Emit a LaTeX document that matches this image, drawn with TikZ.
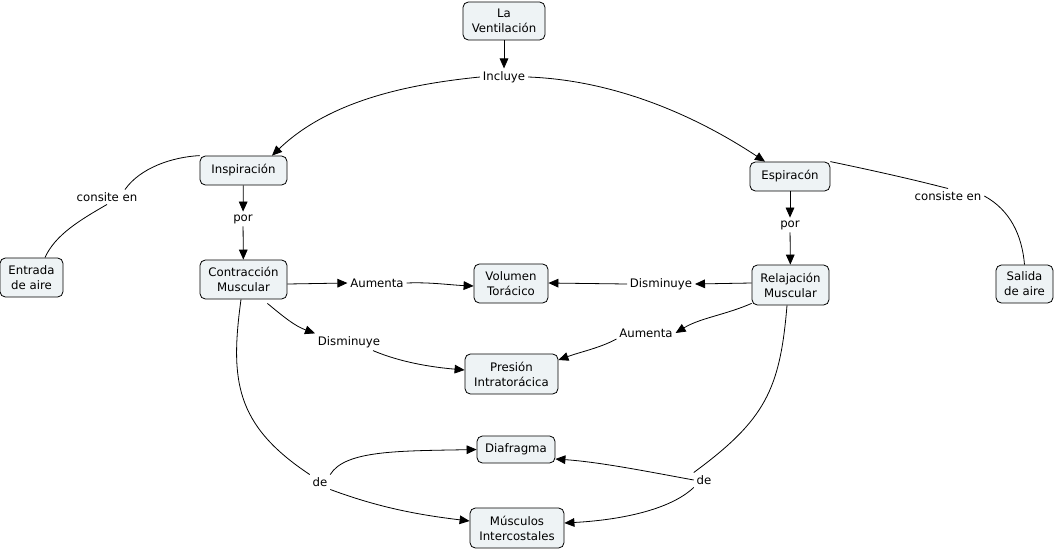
\documentclass[tikz,border=0pt]{standalone}
\usepackage{fontspec}
\setmainfont{DejaVu Sans}
\usetikzlibrary{arrows.meta}
\definecolor{cfill}{RGB}{238,243,245}
\tikzset{
  concept/.style 2 args={draw=black, line width=0.6pt, fill=cfill, rounded corners=4pt,
    align=center, inner sep=0pt, minimum width=#1*0.75pt, minimum height=#2*0.75pt,
    font=\fontsize{8.8pt}{11.2pt}\selectfont},
  link/.style={inner sep=2pt, font=\fontsize{8.8pt}{11.2pt}\selectfont},
  conn/.style={line width=0.6pt, draw=black},
  arr/.style={conn, -{Triangle[length=7.5pt,width=6.5pt]}},
}
\begin{document}
\begin{tikzpicture}[x=0.75pt,y=-0.75pt]
\useasboundingbox (0,0) rectangle (1056,550);
% concepts
\node[concept={82}{38}] (vent) at (504,21) {La\\Ventilación};
\node[concept={87}{29}] (insp) at (243.5,170.5) {Inspiración};
\node[concept={80}{29}] (esp) at (790,176.5) {Espiracón};
\node[concept={63}{39}] (entrada) at (31.5,277.5) {Entrada\\de aire};
\node[concept={57}{38}] (salida) at (1024.5,284) {Salida\\de aire};
\node[concept={87}{39}] (contr) at (243.5,279.5) {Contracción\\Muscular};
\node[concept={77}{40}] (relaj) at (790.5,285) {Relajación\\Muscular};
\node[concept={74}{39}] (vol) at (511,283.5) {Volumen\\Torácico};
\node[concept={93}{40}] (pres) at (511.5,374) {Presión\\Intratorácica};
\node[concept={78}{27}] (diaf) at (516,449.5) {Diafragma};
\node[concept={94}{40}] (musc) at (517,528) {Músculos\\Intercostales};
% linking phrases
\node[link] (incl) at (504,77) {Incluye};
\node[link] (consite) at (107,197) {consite en};
\node[link] (consiste) at (948,196) {consiste en};
\node[link] (por1) at (243,219) {por};
\node[link] (por2) at (790,225) {por};
\node[link] (aum1) at (377,283) {Aumenta};
\node[link] (dism1) at (349,342) {Disminuye};
\node[link] (dism2) at (661,284) {Disminuye};
\node[link] (aum2) at (646,333) {Aumenta};
\node[link] (de1) at (320,482) {de};
\node[link] (de2) at (704,480) {de};
% connectors
\draw[arr] (vent) -- (incl);
\draw[arr] (incl.west) .. controls (410,84) and (330,100) .. (insp.north -| 272,0);
\draw[arr] (incl.east) .. controls (610,80) and (690,112) .. (esp.north -| 765,0);
\draw[conn] (insp.north west) .. controls (172,157) and (140,168) .. ([xshift=18*0.75pt]consite.north);
\draw[conn] (consite.south) .. controls (80,220) and (55,235) .. (entrada.north -| 45,0);
\draw[conn] (esp.north east) .. controls (880,172) and (915,180) .. (consiste.north);
\draw[conn] (consiste.east) .. controls (1010,210) and (1022,235) .. (salida.north);
\draw[arr] (insp) -- (por1);
\draw[arr] (por1) -- (contr);
\draw[arr] (esp) -- (por2);
\draw[arr] (por2) -- (relaj);
\draw[arr] (contr.east |- 0,284) -- (aum1.west);
\draw[arr] (aum1.east) .. controls (430,282) and (450,285) .. (vol.west |- 0,286);
\draw[arr] (contr.south east) ++(-20,4) .. controls (285,318) and (295,326) .. (dism1.north west);
\draw[arr] (dism1.south east) ++(-10,0) .. controls (400,362) and (430,367) .. (pres.west |- 0,370);
\draw[arr] (relaj.west |- 0,283) -- (dism2.east);
\draw[arr] (dism2.west) -- (vol.east |- 0,283);
\draw[arr] (relaj.south west) ++(0,-2) .. controls (725,315) and (700,318) .. (aum2.east);
\draw[arr] (aum2.west) ++(0,6) .. controls (600,348) and (580,352) .. (pres.east |- 0,360);
\draw[conn] (contr.south -| 241,0) .. controls (230,380) and (235,425) .. (de1.north west);
\draw[arr] (de1.north east) .. controls (345,450) and (400,451) .. (diaf.west);
\draw[arr] (de1.south east) .. controls (380,508) and (420,515) .. (musc.west |- 0,521);
\draw[conn] (relaj.south -| 787,0) .. controls (780,390) and (765,420) .. (de2.north west);
\draw[arr] (de2.west) .. controls (650,472) and (600,462) .. (diaf.east |- 0,459);
\draw[arr] (de2.south west) .. controls (670,510) and (620,520) .. (musc.east |- 0,523);
\end{tikzpicture}
\end{document}
